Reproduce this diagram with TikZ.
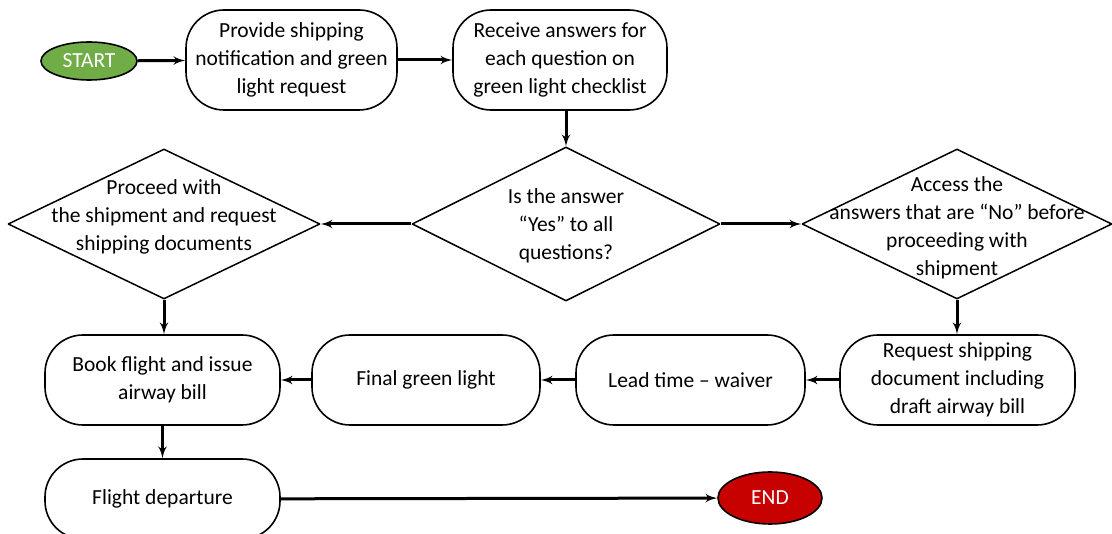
\documentclass[tikz,border=0pt]{standalone}
\usepackage{fontspec}
\setmainfont{Carlito}
\usepackage{xcolor}
\usepackage{tikz}
\usetikzlibrary{arrows,shapes}
\definecolor{startgreen}{rgb}{0.44,0.68,0.28}
\definecolor{endred}{rgb}{0.78,0.0,0.0}

\begin{document}
\begin{tikzpicture}[>=latex',line join=bevel,x=1pt,y=-1pt,
  font=\fontsize{21.5}{28}\selectfont,
  terminal/.style={ellipse,draw,line width=1.6pt,text=white,inner sep=0pt},
  process/.style={rectangle,draw,line width=1.6pt,rounded corners=38pt,
                  align=center,inner sep=0pt},
  decision/.style={diamond,draw,line width=1.5pt,inner sep=0pt,
                   minimum width=308pt,minimum height=154pt},
  flow/.style={->,line width=3pt},
  ]
\useasboundingbox (0,0) rectangle (1112,534);
%%
  \node (start) at (89,61) [terminal,fill=startgreen,minimum width=96pt,minimum height=38pt] {START};
  \node (notify) at (291.5,60) [process,minimum width=211pt,minimum height=100pt] {Provide shipping\\notification and green\\light request};
  \node (answers) at (560,60) [process,minimum width=214pt,minimum height=100pt] {Receive answers for\\each question on\\green light checklist};

  \node (check) at (566,224) [decision,
    label={[align=center,yshift=-2pt]center:Is the answer\\“Yes” to all\\questions?}] {};
  \node (proceed) at (164,224) [decision,minimum width=312pt,minimum height=150pt,
    label={[align=center,yshift=7pt]center:Proceed with\\the shipment and request\\shipping documents}] {};
  \node (access) at (957,224) [decision,minimum width=310pt,minimum height=150pt,
    label={[align=center,yshift=-4pt]center:Access the\\answers that are “No” before\\proceeding with\\shipment}] {};

  \node (book) at (162.5,380) [process,minimum width=235pt,minimum height=90pt] {Book flight and issue\\airway bill};
  \node (final) at (426,380) [process,minimum width=228pt,minimum height=90pt] {Final green light};
  \node (lead) at (690.5,380) [process,minimum width=229pt,minimum height=90pt] {Lead time – waiver};
  \node (request) at (957.5,380) [process,minimum width=235pt,minimum height=90pt] {Request shipping\\document including\\draft airway bill};

  \node (flight) at (162.5,499) [process,minimum width=235pt,minimum height=80pt] {Flight departure};
  \node (stop) at (770,498) [terminal,fill=endred,minimum width=104pt,minimum height=52pt] {END};

  \draw [flow] (start) -- (notify);
  \draw [flow] (notify) -- (answers);
  \draw [flow] (answers.south -| check.north) -- (check.north);
  \draw [flow] (check.west) -- (proceed.east);
  \draw [flow] (check.east) -- (access.west);
  \draw [flow] (proceed.south) -- (book.north -| proceed.south);
  \draw [flow] (access.south) -- (request.north -| access.south);
  \draw [flow] (request) -- (lead);
  \draw [flow] (lead) -- (final);
  \draw [flow] (final) -- (book);
  \draw [flow] (book) -- (flight);
  \draw [flow] (flight) -- (stop);
%
\end{tikzpicture}
\end{document}
